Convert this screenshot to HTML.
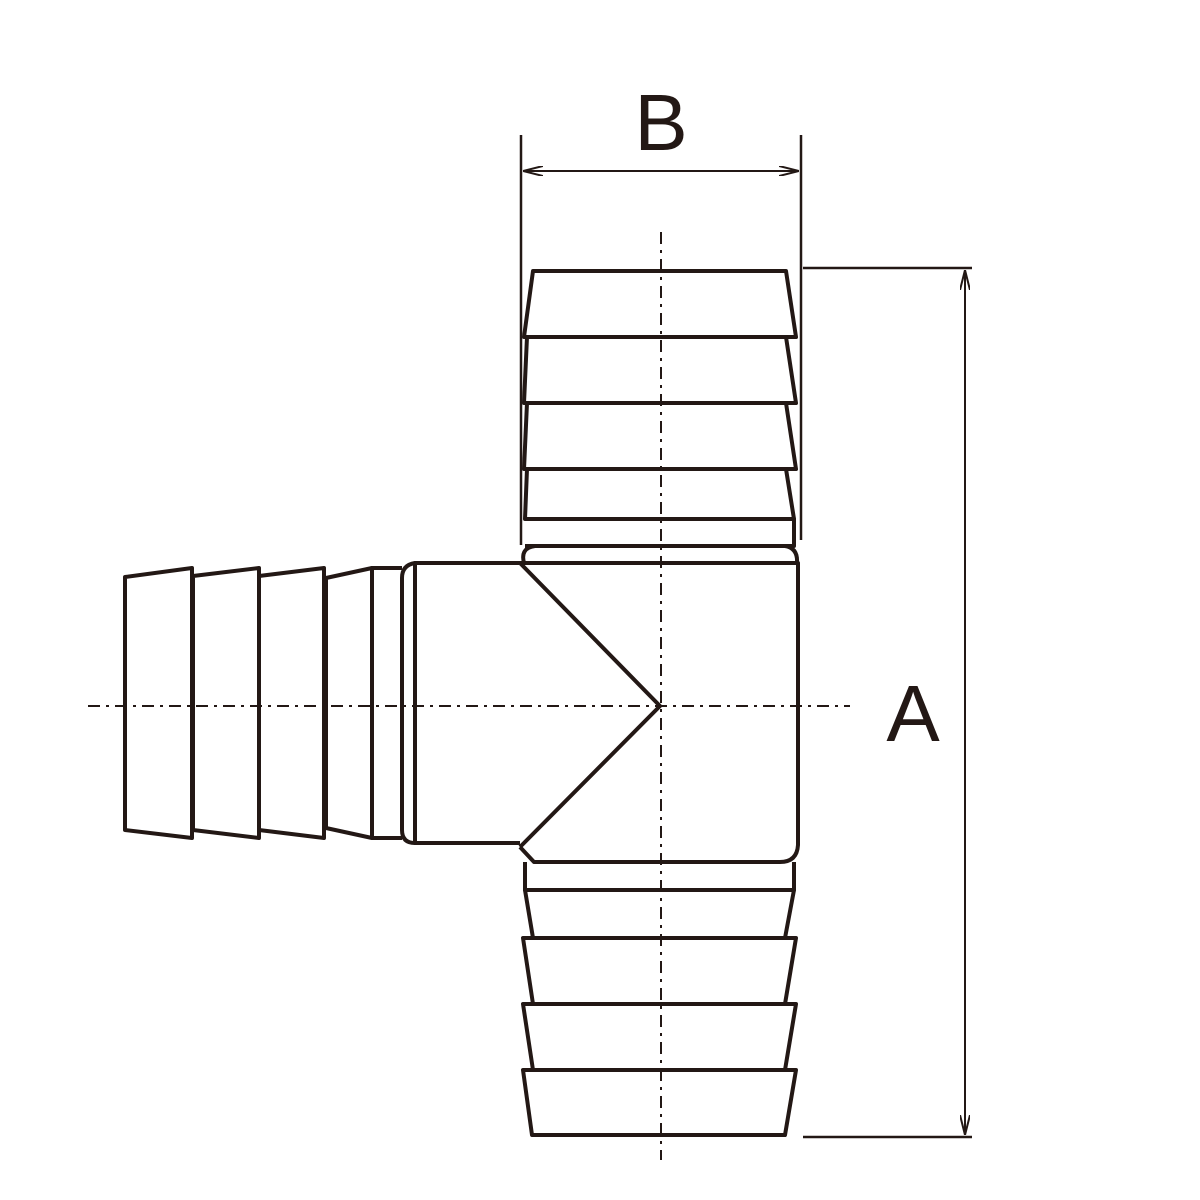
<!DOCTYPE html>
<html><head><style>html,body{margin:0;padding:0;background:#fff}svg{display:block}</style></head>
<body>
<svg width="1200" height="1200" viewBox="0 0 1200 1200" xmlns="http://www.w3.org/2000/svg">
<defs>
<marker id="ar" viewBox="0 0 20 10" refX="20" refY="5" markerWidth="20" markerHeight="10" markerUnits="userSpaceOnUse" orient="auto-start-reverse">
<path d="M0,0 L20,5 L0,10" fill="none" stroke="#231815" stroke-width="2"/>
</marker>
</defs>
<g fill="none" stroke="#231815" stroke-linejoin="round">
<line x1="661" y1="232" x2="661" y2="1160" stroke-width="2" stroke-dasharray="12,6,3,6"/>
<line x1="88" y1="706" x2="850" y2="706" stroke-width="2" stroke-dasharray="12,6,3,6"/>
<line x1="521" y1="135" x2="521" y2="545" stroke-width="2.5"/>
<line x1="801" y1="135" x2="801" y2="540" stroke-width="2.5"/>
<line x1="523" y1="171" x2="799" y2="171" stroke-width="2" marker-start="url(#ar)" marker-end="url(#ar)"/>
<line x1="803" y1="268" x2="972" y2="268" stroke-width="2.5"/>
<line x1="803" y1="1137" x2="972" y2="1137" stroke-width="2.5"/>
<line x1="965" y1="270" x2="965" y2="1135" stroke-width="2" marker-start="url(#ar)" marker-end="url(#ar)"/>

<g stroke-width="4">
<path d="M533,271 L786,271 L796,337 L524,337 Z"/>
<path d="M527,337 L786,337 L796,403 L524,403 Z"/>
<path d="M527,403 L786,403 L796,469 L524,469 Z"/>
<path d="M527,469 L786,469 L794,519 L525,519 Z"/>
<path d="M525,519 L794,519 L794,546 L525,546"/>
<path d="M524,563 Q520,548 535,546 L785,546 Q798,548 797,563"/>
<path d="M520,563 L798,563 L798,845 Q797,862 780,862 L534,862 L520,847"/>
<path d="M520,563 L660,706 L520,847"/>
<path d="M520,563 L415,563 L415,843 L520,843"/>
<path d="M415,563 Q402,565 402,578 L402,830 Q402,843 415,843"/>
<path d="M402,568 L372,568 L372,838 L402,838"/>
<path d="M372,568 L326,578 L326,828 L372,838 Z"/>
<path d="M324,568 L259,576 L259,830 L324,838 Z"/>
<path d="M259,568 L193,576 L193,830 L259,838 Z"/>
<path d="M192,568 L125,577 L125,830 L192,838 Z"/>
<path d="M525,862 L525,890 L794,890 L794,862"/>
<path d="M525,890 L794,890 L785,938 L533,938 Z"/>
<path d="M523,938 L796,938 L785,1004 L533,1004 Z"/>
<path d="M523,1004 L796,1004 L785,1070 L533,1070 Z"/>
<path d="M523,1070 L796,1070 L785,1135 L532,1135 Z"/>
</g>
</g>
<text x="661" y="150" text-anchor="middle" font-family="'Liberation Sans',sans-serif" font-size="80" fill="#231815">B</text>
<text x="913" y="741" text-anchor="middle" font-family="'Liberation Sans',sans-serif" font-size="80" fill="#231815">A</text>
</svg>
</body></html>
